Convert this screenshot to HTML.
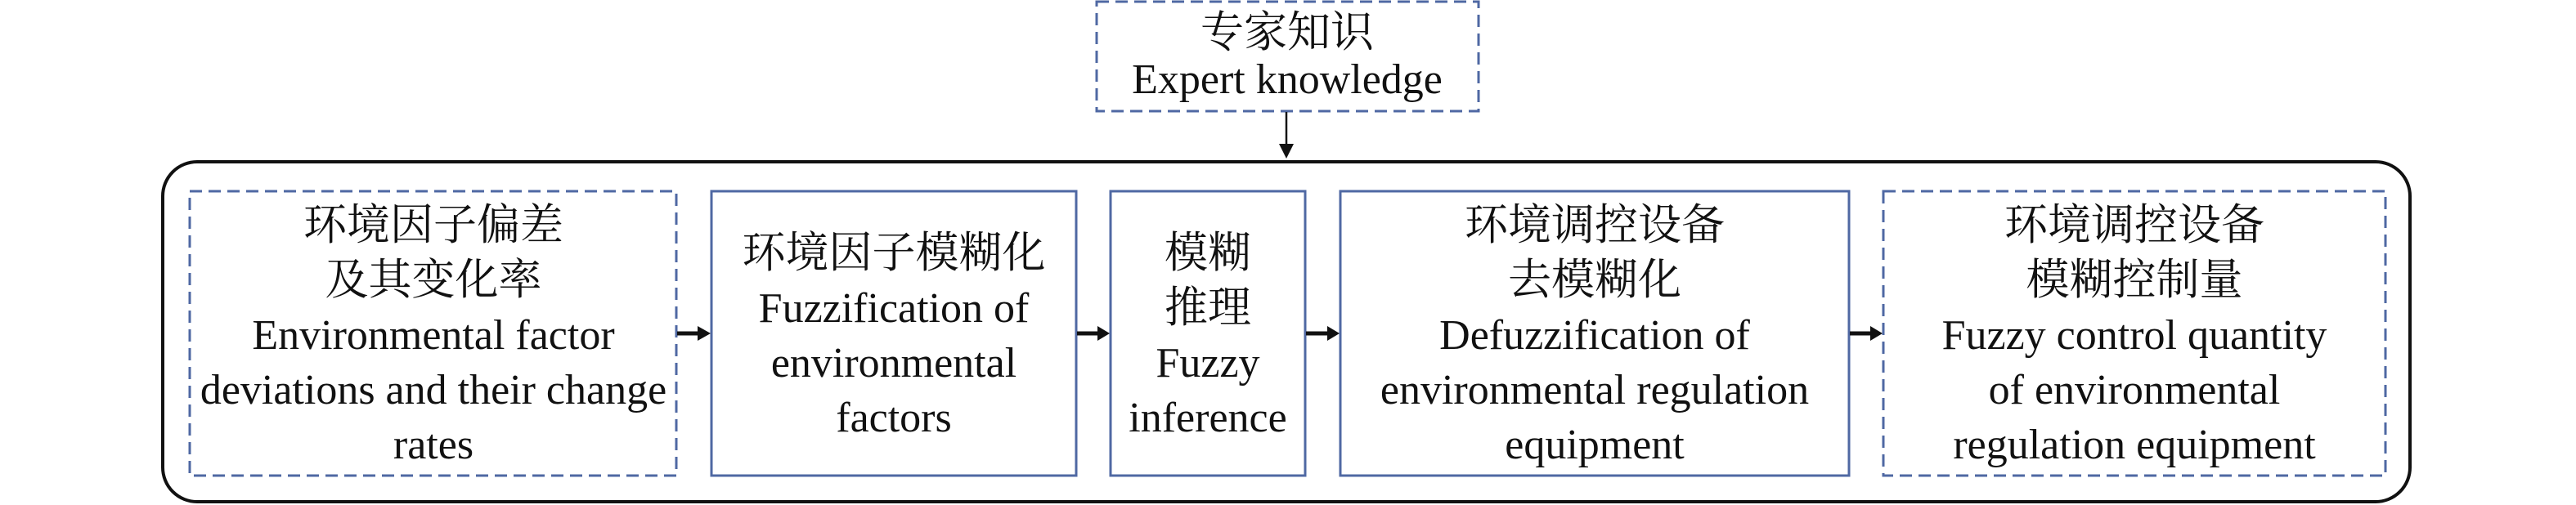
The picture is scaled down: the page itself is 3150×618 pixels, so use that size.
<!DOCTYPE html>
<html><head><meta charset="utf-8"><style>
html,body{margin:0;padding:0;background:#fff;width:3150px;height:618px;overflow:hidden}
text{font-family:"Liberation Serif","Noto Serif CJK SC",serif;fill:#111}
.c{font-size:53px}
.e{font-size:52px}
</style></head><body>
<svg width="3150" height="618" xmlns="http://www.w3.org/2000/svg">
<g fill="none" stroke="#4f68a3" stroke-width="3">
<rect x="1341" y="2" width="467" height="134" stroke-dasharray="15 8"/>
<rect x="232" y="234" width="595" height="348" stroke-dasharray="15 8"/>
<rect x="870" y="234" width="446" height="348"/>
<rect x="1358" y="234" width="238" height="348"/>
<rect x="1639" y="234" width="622" height="348"/>
<rect x="2303" y="234" width="614" height="348" stroke-dasharray="15 8"/>
</g>
<rect x="199" y="198" width="2748" height="416" rx="42" ry="42" fill="none" stroke="#111" stroke-width="4"/>
<g stroke="#111" stroke-width="2.5"><line x1="1573" y1="137" x2="1573" y2="180"/></g>
<polygon points="1564,176 1582,176 1573,194" fill="#111"/>
<g stroke="#111" stroke-width="5">
<line x1="828" y1="408" x2="855" y2="408"/>
<line x1="1317" y1="408" x2="1344" y2="408"/>
<line x1="1597" y1="408" x2="1625" y2="408"/>
<line x1="2262" y1="408" x2="2289" y2="408"/>
</g>
<g fill="#111">
<polygon points="853,399 869,408 853,417"/>
<polygon points="1342,399 1357,408 1342,417"/>
<polygon points="1623,399 1638,408 1623,417"/>
<polygon points="2287,399 2302,408 2287,417"/>
</g>
<g text-anchor="middle">
<text class="c" x="1574" y="57">专家知识</text>
<text class="e" x="1574" y="114">Expert knowledge</text>

<text class="c" x="530" y="293">环境因子偏差</text>
<text class="c" x="530" y="360">及其变化率</text>
<text class="e" x="530" y="427">Environmental factor</text>
<text class="e" x="530" y="494">deviations and their change</text>
<text class="e" x="530" y="561">rates</text>

<text class="c" x="1093" y="327">环境因子模糊化</text>
<text class="e" x="1093" y="394">Fuzzification of</text>
<text class="e" x="1093" y="461">environmental</text>
<text class="e" x="1093" y="528">factors</text>

<text class="c" x="1477" y="327">模糊</text>
<text class="c" x="1477" y="394">推理</text>
<text class="e" x="1477" y="461">Fuzzy</text>
<text class="e" x="1477" y="528">inference</text>

<text class="c" x="1950" y="293">环境调控设备</text>
<text class="c" x="1950" y="360">去模糊化</text>
<text class="e" x="1950" y="427">Defuzzification of</text>
<text class="e" x="1950" y="494">environmental regulation</text>
<text class="e" x="1950" y="561">equipment</text>

<text class="c" x="2610" y="293">环境调控设备</text>
<text class="c" x="2610" y="360">模糊控制量</text>
<text class="e" x="2610" y="427">Fuzzy control quantity</text>
<text class="e" x="2610" y="494">of environmental</text>
<text class="e" x="2610" y="561">regulation equipment</text>
</g>
</svg>
</body></html>
